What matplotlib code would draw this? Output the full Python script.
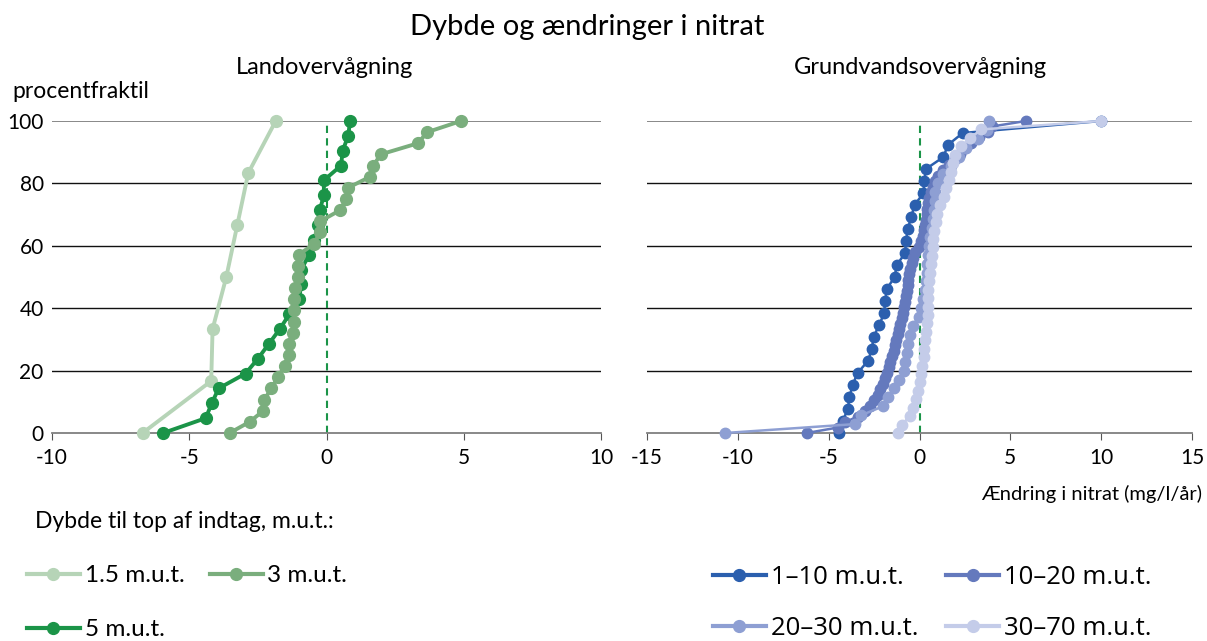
import numpy as np
import matplotlib
matplotlib.use("Agg")
import matplotlib.pyplot as plt
from matplotlib.lines import Line2D

plt.rcParams['font.family'] = ['Lato', 'DejaVu Sans']
plt.rcParams['axes.unicode_minus'] = False

# farver
GREEN_LIGHT = '#b6d4b7'
GREEN_MID = '#7aae7d'
GREEN_DARK = '#1b9448'
BLUE_1 = '#2b5fae'
BLUE_2 = '#6479bd'
BLUE_3 = '#8e9fd3'
BLUE_4 = '#c4cce9'

# Landovervågning: ændring i nitrat (mg/l/år), sorteret stigende
land_15 = [-6.7, -4.2, -4.15, -3.65, -3.25, -2.85, -1.85]
land_3 = [-3.53, -2.8, -2.3, -2.26, -2.01, -1.77, -1.53, -1.38, -1.35, -1.23,
          -1.17, -1.17, -1.17, -1.13, -1.04, -1.05, -1.01, -0.44, -0.25, -0.23,
          0.5, 0.72, 0.78, 1.59, 1.71, 1.97, 3.33, 3.67, 4.9]
land_5 = [-5.95, -4.4, -4.18, -3.93, -2.95, -2.5, -2.1, -1.7, -1.35, -1.0,
          -0.92, -0.93, -0.62, -0.45, -0.3, -0.25, -0.09, -0.1, 0.53, 0.59,
          0.79, 0.86]

# Grundvandsovervågning
gv_1_10 = [-4.41, -4.23, -3.94, -3.86, -3.68, -3.41, -2.84, -2.62, -2.53, -2.22,
           -1.94, -1.89, -1.8, -1.37, -1.25, -0.79, -0.75, -0.64, -0.46, -0.27,
           0.22, 0.27, 0.35, 1.32, 1.56, 2.38, 10.0]
gv_10_20 = [-6.2, -4.5, -4.1, -3.4, -3.0, -2.7, -2.5, -2.28, -2.15, -2.02,
            -1.9, -1.8, -1.7, -1.6, -1.5, -1.43, -1.35, -1.28, -1.21, -1.13,
            -1.05, -0.98, -0.92, -0.86, -0.8, -0.76, -0.71, -0.66, -0.61, -0.56,
            -0.5, -0.43, -0.35, -0.25, -0.05, 0.1, 0.2, 0.25, 0.3, 0.35,
            0.39, 0.44, 0.49, 0.54, 0.62, 0.72, 0.85, 1.0, 1.3, 1.6,
            1.95, 2.25, 2.5, 2.85, 3.3, 3.75, 4.0, 5.85]
gv_20_30 = [-10.7, -3.55, -3.2, -2.0, -1.72, -1.43, -1.15, -0.88, -0.78, -0.7,
            -0.61, -0.52, -0.38, -0.05, 0.1, 0.2, 0.3, 0.36, 0.4, 0.44,
            0.48, 0.52, 0.6, 0.68, 0.74, 0.79, 0.83, 0.88, 1.02, 1.3,
            1.75, 2.2, 2.55, 3.2, 3.7, 3.85]
gv_30_70 = [-1.17, -0.95, -0.55, -0.35, -0.18, -0.1, 0.0, 0.08, 0.16, 0.23,
            0.27, 0.31, 0.35, 0.4, 0.45, 0.46, 0.47, 0.48, 0.52, 0.57,
            0.63, 0.68, 0.72, 0.77, 0.82, 0.89, 0.96, 1.15, 1.37, 1.45,
            1.6, 1.72, 1.85, 1.98, 2.3, 2.8, 3.4, 10.0]

land_series = [('1.5 m.u.t.', land_15, GREEN_LIGHT),
               ('5 m.u.t.', land_5, GREEN_DARK),
               ('3 m.u.t.', land_3, GREEN_MID)]
gv_series = [('1–10 m.u.t.', gv_1_10, BLUE_1),
             ('10–20 m.u.t.', gv_10_20, BLUE_2),
             ('20–30 m.u.t.', gv_20_30, BLUE_3),
             ('30–70 m.u.t.', gv_30_70, BLUE_4)]


def percentiles(vals):
    # rang af hver observation som procentfraktil
    return np.linspace(0, 100, len(vals))


def style_axis(ax, xmin, xmax, ylabels):
    ax.set_xlim(xmin, xmax)
    ax.set_ylim(0, 100)
    ax.set_xticks(np.arange(xmin, xmax + 1, 5))
    ax.set_yticks(np.arange(0, 101, 20))
    for s in ['left', 'right', 'top']:
        ax.spines[s].set_visible(False)
    ax.spines['bottom'].set_color('#7f7f7f')
    ax.spines['bottom'].set_linewidth(1.3)
    for yv in [20, 40, 60, 80]:
        ax.axhline(yv, color='#111111', lw=1.0, zorder=0)
    ax.axhline(100, color='#7f7f7f', lw=1.3, zorder=0)
    ax.tick_params(axis='x', direction='out', length=5, color='#555555',
                   labelsize=15, pad=6)
    ax.tick_params(axis='y', length=0, labelsize=15, pad=6)
    if not ylabels:
        ax.set_yticklabels([])
    ax.axvline(0, color=GREEN_DARK, lw=1.5, ls=(0, (3.5, 2.5)), zorder=1)


fig = plt.figure(figsize=(12.07, 6.41), dpi=100)
W, H = 1207, 641
axL = fig.add_axes([52 / W, 1 - 433 / H, 549 / W, 312 / H])
axR = fig.add_axes([647 / W, 1 - 433 / H, 545 / W, 312 / H])

style_axis(axL, -10, 10, True)
style_axis(axR, -15, 15, False)

land_handles = {}
for i, (name, vals, c) in enumerate(land_series):
    h, = axL.plot(vals, percentiles(vals), '-o', color=c, lw=2.8, ms=8.5,
                  clip_on=False, zorder=3 + i)
    land_handles[name] = h

gv_handles = {}
for i, (name, vals, c) in enumerate(gv_series):
    h, = axR.plot(vals, percentiles(vals), '-o', color=c, lw=1.8, ms=7.5,
                  clip_on=False, zorder=3 + i)
    gv_handles[name] = h

fig.text(587 / W, 1 - 27 / H, 'Dybde og ændringer i nitrat', ha='center',
         va='center', fontsize=21)
fig.text(325 / W, 1 - 68 / H, 'Landovervågning', ha='center', va='center',
         fontsize=17)
fig.text(920 / W, 1 - 68 / H, 'Grundvandsovervågning', ha='center',
         va='center', fontsize=17)
fig.text(12 / W, 1 - 92 / H, 'procentfraktil', ha='left', va='center',
         fontsize=16.5)
fig.text(1202 / W, 1 - 494 / H, 'Ændring i nitrat (mg/l/år)', ha='right',
         va='center', fontsize=14.5)
fig.text(35 / W, 1 - 522 / H, 'Dybde til top af indtag, m.u.t.:', ha='left',
         va='center', fontsize=16.5)


def legend_handle(c):
    return Line2D([], [], color=c, lw=3, marker='o', ms=8.5)


# kolonnevis udfyldning: rækkefølgen giver 2 kolonner pr. række
left_order = ['1.5 m.u.t.', '5 m.u.t.', '3 m.u.t.']
leg1 = fig.legend([legend_handle(land_handles[n].get_color()) for n in left_order],
                  left_order, loc='upper left', bbox_to_anchor=(27 / W, 1 - 565 / H),
                  ncol=2, frameon=False, fontsize=17.5, handlelength=2.18,
                  handletextpad=0.2, columnspacing=1.03, labelspacing=1.36,
                  borderpad=0, borderaxespad=0)

right_order = ['1–10 m.u.t.', '20–30 m.u.t.', '10–20 m.u.t.', '30–70 m.u.t.']
leg2 = fig.legend([legend_handle(gv_handles[n].get_color()) for n in right_order],
                  right_order, loc='upper left', bbox_to_anchor=(713 / W, 1 - 565 / H),
                  ncol=2, frameon=False, handlelength=2.06,
                  handletextpad=0.2, columnspacing=1.07, labelspacing=1.02,
                  borderpad=0, borderaxespad=0,
                  prop={'family': 'Open Sans', 'size': 18.5})

fig.savefig('out.png', dpi=100)
